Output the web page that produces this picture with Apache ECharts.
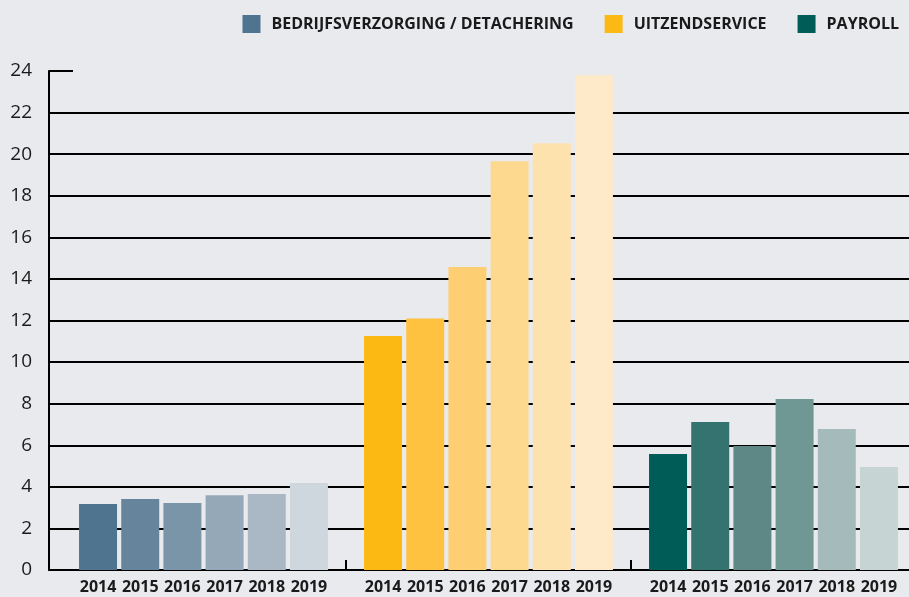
<!DOCTYPE html>
<html>
<head>
<meta charset="utf-8">
<script src="https://cdn.jsdelivr.net/npm/echarts@6/dist/echarts.min.js"></script>
<style>
  html, body { margin: 0; padding: 0; background: #e9eaee; }
  #chart { width: 909px; height: 597px; }
</style>
</head>
<body>
<div id="chart"></div>
<script>
// groups and years
const groups = ['BEDRIJFSVERZORGING / DETACHERING', 'UITZENDSERVICE', 'PAYROLL'];
const years = ['2014', '2015', '2016', '2017', '2018', '2019'];

// values per group, one per year
const bedrijfsverzorging = [3.17, 3.41, 3.22, 3.59, 3.65, 4.18];
const uitzendservice = [11.25, 12.1, 14.57, 19.66, 20.53, 23.8];
const payroll = [5.58, 7.12, 5.96, 8.22, 6.78, 4.95];

// y axis
const yMin = 0;
const yMax = 24;
const yStep = 2;

// colour ramps, darkest (2014) to lightest (2019)
const bedrijfColors = ['#4e7490', '#66849b', '#7b95a8', '#95a8b8', '#aab8c5', '#ced6de'];
const uitzendColors = ['#fdb913', '#fec240', '#fecf72', '#fdd88f', '#fde2ae', '#fee9c8'];
const payrollColors = ['#005c56', '#357370', '#5e8885', '#6f9794', '#a5baba', '#c6d4d3'];

const groupValues = [bedrijfsverzorging, uitzendservice, payroll];
const groupColors = [bedrijfColors, uitzendColors, payrollColors];

const chart = echarts.init(document.getElementById('chart'));

const fontFamily = '"Open Sans", "Noto Sans", sans-serif';
const ink = '#1a1a1a';

// one bar series per year, coloured per group
const yearSeries = years.map((year, i) => ({
  name: year,
  type: 'bar',
  xAxisIndex: 1,
  yAxisIndex: 1,
  barWidth: 38,
  barGap: '11%',
  data: groupValues.map((vals, g) => ({
    value: vals[i],
    itemStyle: { color: groupColors[g][i] }
  })),
  label: {
    show: true,
    position: 'bottom',
    distance: 9,
    formatter: '{a}',
    color: ink,
    fontFamily: fontFamily,
    fontWeight: 'bold',
    fontSize: 16
  },
  emphasis: { disabled: true }
}));

// empty series only for the legend entries
const legendSeries = groups.map((name, g) => ({
  name: name,
  type: 'line',
  xAxisIndex: 0,
  yAxisIndex: 0,
  data: [],
  itemStyle: { color: groupColors[g][0] },
  lineStyle: { color: groupColors[g][0] }
}));

const option = {
  backgroundColor: '#e9eaee',
  animation: false,
  legend: {
    data: groups,
    right: 5,
    top: 10,
    icon: 'rect',
    itemWidth: 18,
    itemHeight: 18,
    itemGap: 31,
    selectedMode: false,
    textStyle: {
      color: ink,
      fontFamily: fontFamily,
      fontWeight: 'bold',
      fontSize: 16,
      padding: [0, 0, 0, 6]
    }
  },
  grid: [
    { left: 49, right: 0, top: 71, bottom: 27 },
    { left: 61, width: 855, top: 71, bottom: 27, outerBoundsMode: 'none' }
  ],
  xAxis: [
    {
      type: 'value',
      gridIndex: 0,
      min: 0,
      max: 1,
      axisLine: { show: true, onZero: false, lineStyle: { color: '#000', width: 2 } },
      axisTick: { show: false },
      axisLabel: { show: false },
      splitLine: { show: false }
    },
    {
      type: 'category',
      gridIndex: 1,
      data: groups,
      axisLine: { show: false },
      axisTick: {
        show: true,
        inside: true,
        length: 10,
        interval: (i) => i > 0,
        lineStyle: { color: '#000', width: 2 }
      },
      axisLabel: { show: false }
    }
  ],
  yAxis: [
    {
      type: 'value',
      gridIndex: 0,
      min: yMin,
      max: yMax,
      interval: yStep,
      axisLine: { show: true, lineStyle: { color: '#000', width: 2 } },
      axisTick: { show: true, inside: true, length: 24, lineStyle: { color: '#000', width: 2 } },
      axisLabel: {
        color: ink,
        fontFamily: fontFamily,
        fontSize: 19,
        margin: 17,
        padding: [0, 0, 12, 0]
      },
      splitLine: { show: true, showMaxLine: false, lineStyle: { color: '#000', width: 2 } }
    },
    {
      type: 'value',
      gridIndex: 1,
      min: yMin,
      max: yMax,
      interval: yStep,
      show: false
    }
  ],
  series: [...yearSeries, ...legendSeries]
};

chart.setOption(option);
</script>
</body>
</html>
